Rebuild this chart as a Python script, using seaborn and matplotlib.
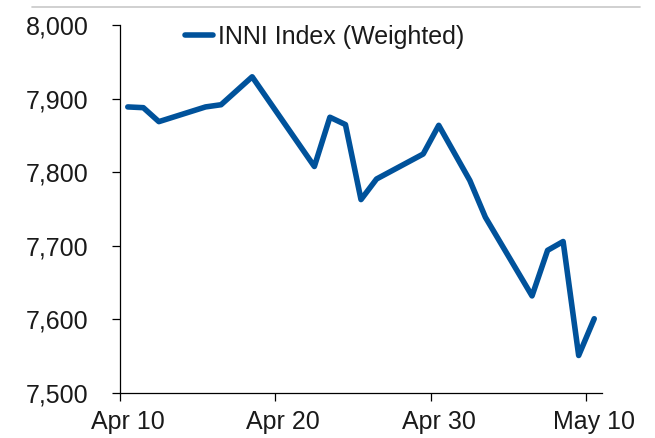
import matplotlib
matplotlib.use("Agg")
import matplotlib.pyplot as plt
import matplotlib.ticker as mticker
from matplotlib.lines import Line2D
import pandas as pd
import seaborn as sns

# INNI index (weighted), daily closes
dates = [
    "2013-04-10", "2013-04-11", "2013-04-12", "2013-04-15", "2013-04-16",
    "2013-04-18", "2013-04-22", "2013-04-23", "2013-04-24", "2013-04-25",
    "2013-04-26", "2013-04-29", "2013-04-30", "2013-05-02", "2013-05-03",
    "2013-05-06", "2013-05-07", "2013-05-08", "2013-05-09", "2013-05-10",
]
values = [
    7889, 7888, 7869, 7889, 7892,
    7930, 7808, 7875, 7865, 7763,
    7791, 7825, 7864, 7789, 7739,
    7632, 7694, 7706, 7551, 7601,
]
tick_dates = ["2013-04-10", "2013-04-20", "2013-04-30", "2013-05-10"]
tick_labels = ["Apr 10", "Apr 20", "Apr 30", "May 10"]
y_ticks = [7500, 7600, 7700, 7800, 7900, 8000]
series_name = "INNI Index (Weighted)"

sns.set_style("ticks")
plt.rcParams["font.family"] = ["Liberation Sans", "DejaVu Sans"]

half_day = pd.Timedelta(hours=12)
df = pd.DataFrame({"date": pd.to_datetime(dates), "value": values})
# Excel-style date axis: each day's point sits mid-way between day boundaries
df["x"] = df["date"] + half_day

fig = plt.figure(figsize=(6.55, 4.38), dpi=100)
ax = fig.add_axes([120 / 655, 1 - 393 / 438, 482 / 655, 367.7 / 438])

sns.lineplot(data=df, x="x", y="value", ax=ax, color="#00529b", linewidth=4.0,
             label=series_name, solid_joinstyle="round", solid_capstyle="round")

ax.set_xlim(pd.Timestamp("2013-04-10"), pd.Timestamp("2013-05-11"))
ax.set_ylim(7500, 8000)
# tick marks on day boundaries, labels centred on the day
ticks = pd.to_datetime(tick_dates)
ax.set_xticks(ticks)
ax.set_xticklabels([])
ax.set_xticks(ticks + half_day, minor=True)
ax.set_xticklabels(tick_labels, minor=True)
ax.set_yticks(y_ticks)
ax.yaxis.set_major_formatter(mticker.StrMethodFormatter("{x:,.0f}"))
ax.set_xlabel("")
ax.set_ylabel("")

for side in ["top", "right"]:
    ax.spines[side].set_visible(False)
for side in ["left", "bottom"]:
    ax.spines[side].set_linewidth(0.9)
    ax.spines[side].set_color("black")
ax.tick_params(axis="both", direction="out", length=5.5, width=0.9, colors="black",
               labelsize=18, labelcolor="#1a1a1a")
ax.tick_params(axis="y", pad=17)
ax.tick_params(axis="x", which="minor", length=0, pad=12.5, labelsize=18,
               labelcolor="#1a1a1a")

ax.legend(loc="center left", bbox_to_anchor=(185 / 655, 1 - 37 / 438),
          bbox_transform=fig.transFigure, frameon=False, fontsize=18,
          handlelength=1.1, handletextpad=0.2, borderpad=0, borderaxespad=0)
for t in ax.get_legend().get_texts():
    t.set_color("#1a1a1a")

fig.add_artist(Line2D([32 / 655, 640 / 655], [1 - 7 / 438, 1 - 7 / 438],
                      transform=fig.transFigure, color="#c8c8c8", linewidth=1.2))

fig.savefig("out.png", dpi=100)
